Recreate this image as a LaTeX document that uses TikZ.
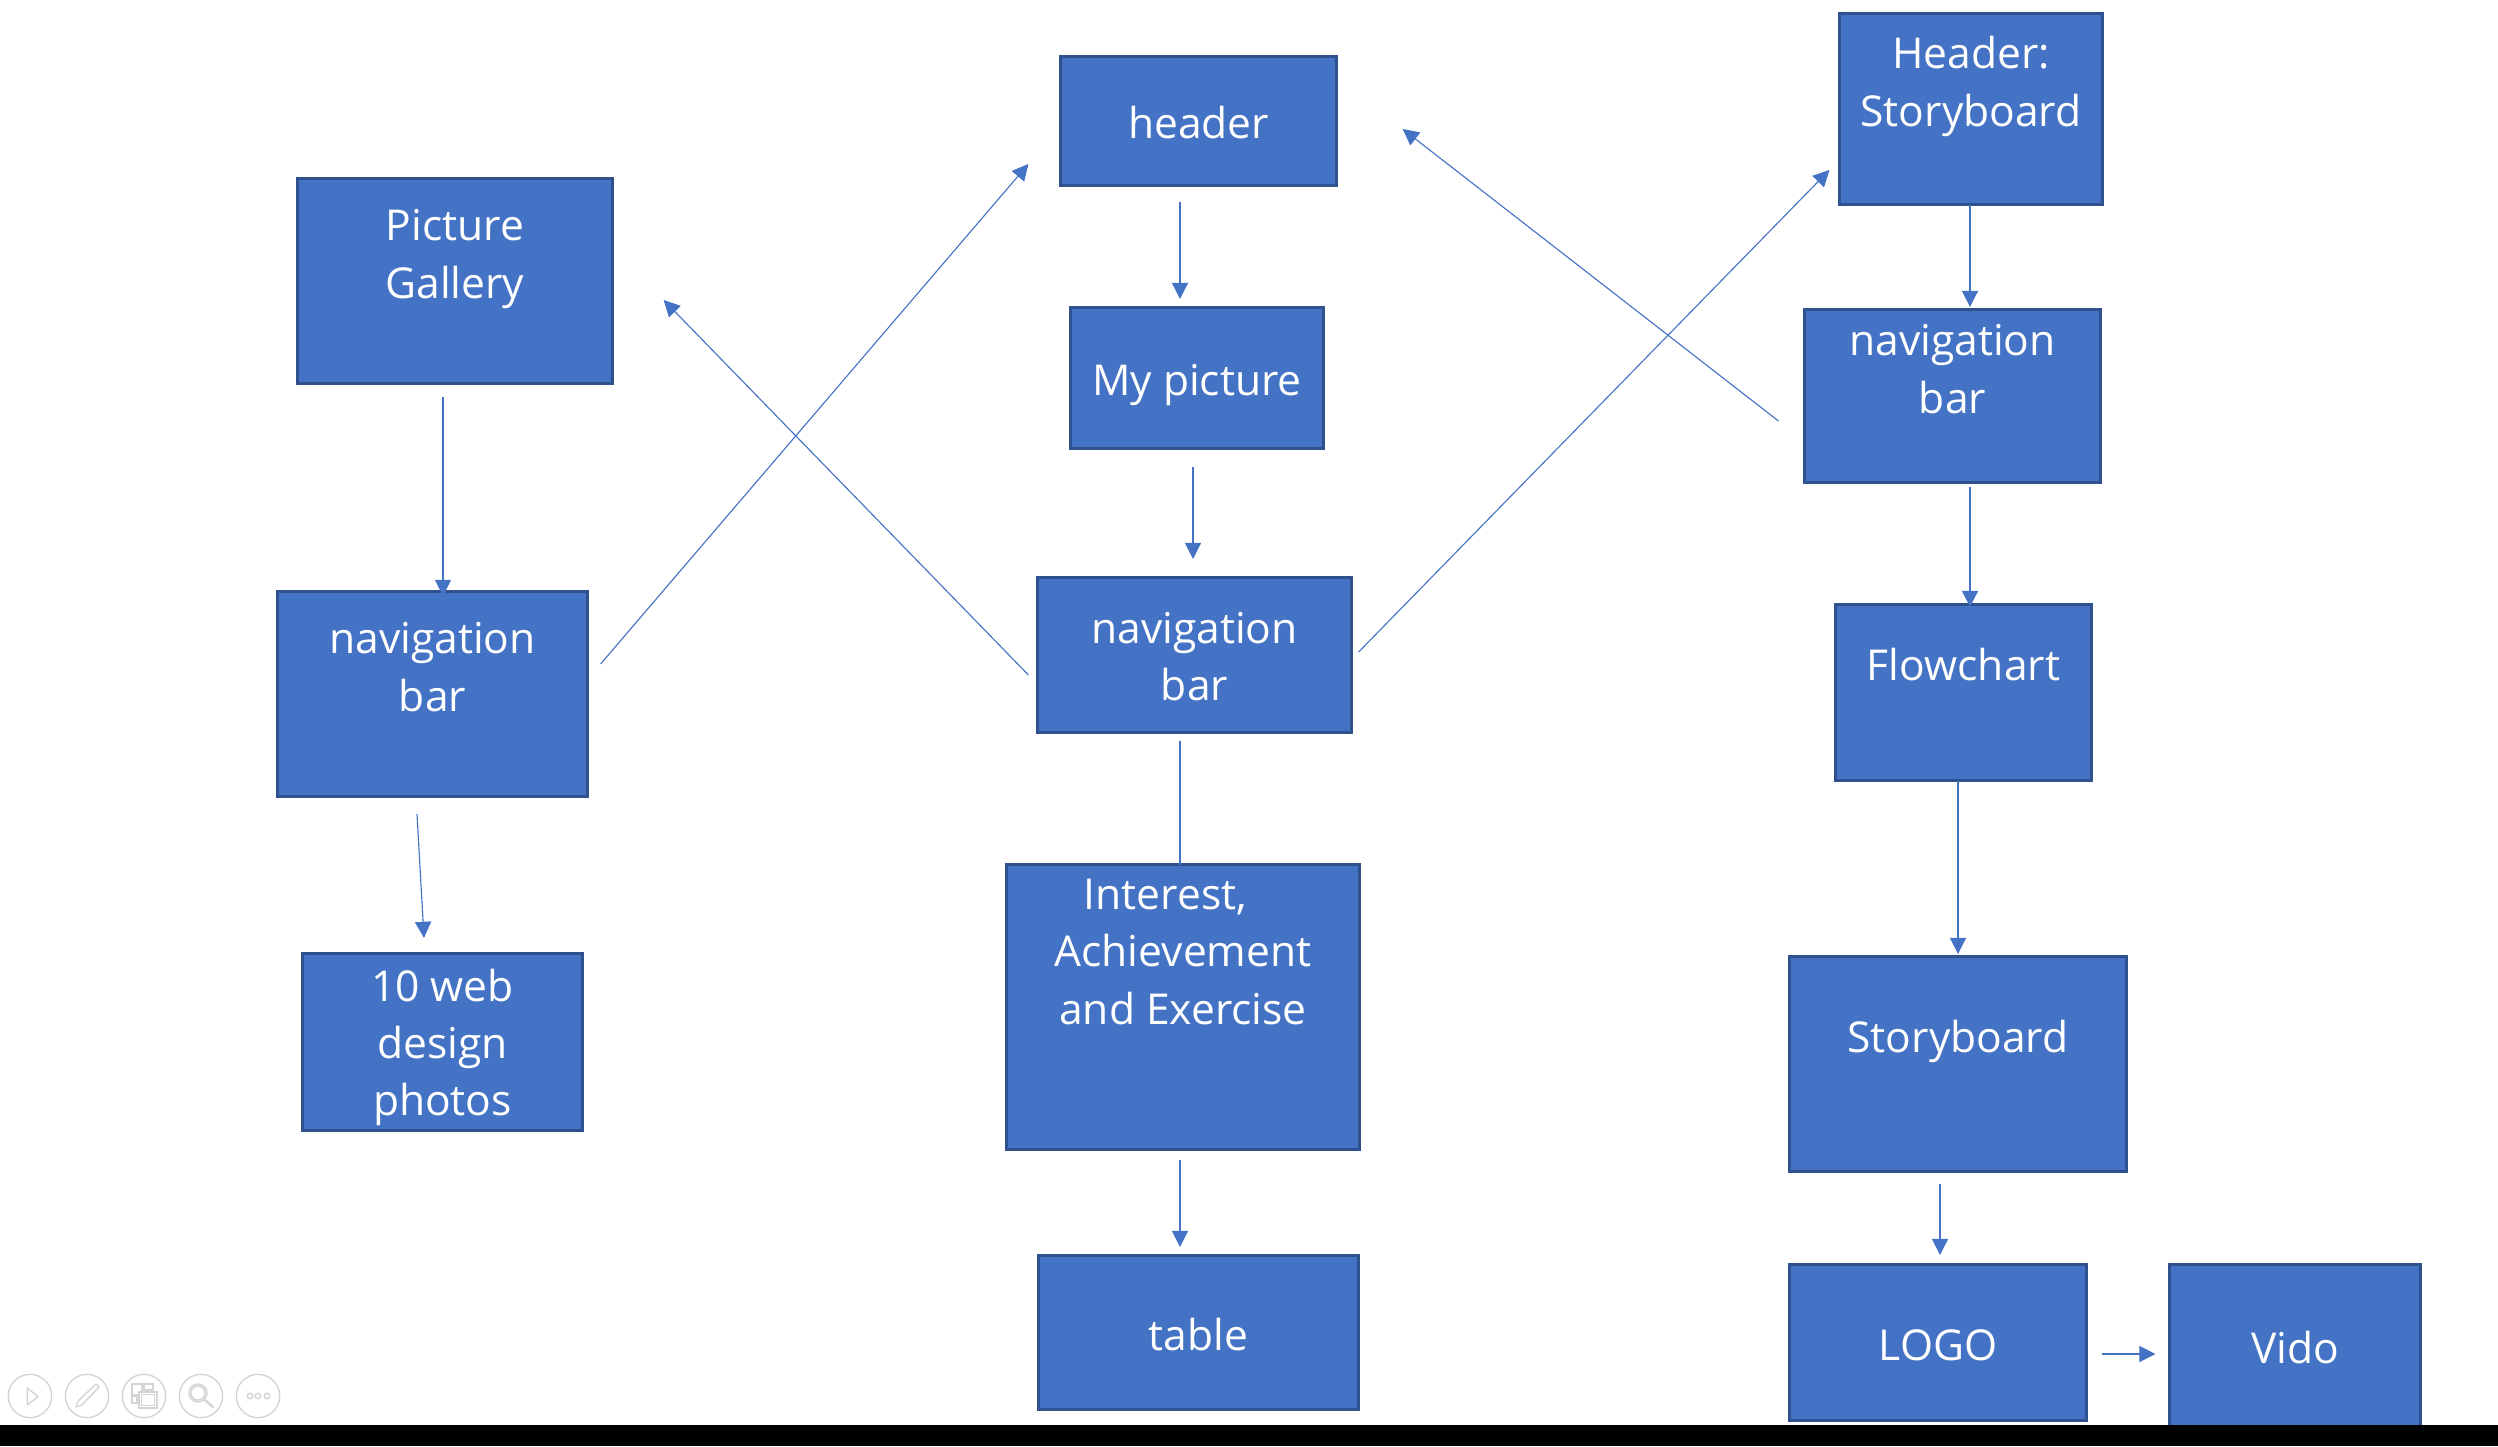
\documentclass[tikz,border=0pt]{standalone}
\usepackage{fontspec}
\setmainfont{Open Sans}
\usetikzlibrary{arrows.meta}
\definecolor{boxfill}{HTML}{4472C4}
\definecolor{boxline}{HTML}{2F528F}
\definecolor{toolgray}{HTML}{D4D4D4}
\newcommand{\toprow}{\rule{0pt}{12.2pt}}
\tikzset{
  box/.style={draw=boxline, fill=boxfill, line width=.85pt, text=white, align=center, inner sep=0pt, outer sep=0pt,
    font=\fontsize{12.1pt}{16.3pt}\selectfont,
    execute at begin node=\rule[-2.5pt]{0pt}{15.2pt},
    execute at end node=\rule[-2.5pt]{0pt}{15.2pt}},
  flow/.style={draw=boxfill, line width=.32pt, -{Triangle[length=4.6pt,width=4.6pt]}},
  plainflow/.style={draw=boxfill, line width=.32pt},
  toolbtn/.style={circle, draw=toolgray, line width=.4pt, minimum size=1.3cm*.333, inner sep=0pt},
  toolicon/.style={draw=toolgray, line width=.4pt},
}
\begin{document}
\begin{tikzpicture}[x=.01cm, y=-.01cm]
\useasboundingbox (0,0) rectangle (2498,1446);
% left column
\node[box, minimum width=3.15cm, minimum height=2.04cm] (gallery) at (455,281) {\toprow Picture\\Gallery\\~};
\node[box, minimum width=3.10cm, minimum height=2.04cm] (navleft) at (432.5,694) {\toprow navigation\\bar\\~};
\node[box, minimum width=2.80cm, minimum height=1.76cm] (photos) at (442.5,1042) {\toprow 10 web\\design\\photos};
% middle column
\node[box, minimum width=2.76cm, minimum height=1.28cm] (header) at (1198.5,121) {header};
\node[box, minimum width=2.53cm, minimum height=1.40cm] (picture) at (1197,378) {My picture};
\node[box, minimum width=3.14cm, minimum height=1.54cm] (navmid) at (1194.5,655) {\toprow navigation\\bar};
\node[box, minimum width=3.53cm, minimum height=2.84cm] (interest) at (1183,1007) {\toprow Interest,\hspace*{10pt}\\Achievement\\and Exercise\\~\\~};
\node[box, minimum width=3.20cm, minimum height=1.53cm] (tablebox) at (1198.5,1332.5) {table};
% right column
\node[box, minimum width=2.63cm, minimum height=1.90cm] (headerstory) at (1971,109) {\toprow Header:\\Storyboard\\~};
\node[box, minimum width=2.96cm, minimum height=1.72cm] (navright) at (1952.5,396) {\toprow navigation\\bar\\~};
\node[box, minimum width=2.56cm, minimum height=1.75cm] (flowchart) at (1963.5,692.5) {\toprow Flowchart\\~};
\node[box, minimum width=3.37cm, minimum height=2.14cm] (story) at (1958,1064) {\toprow Storyboard\\~};
\node[box, minimum width=2.97cm, minimum height=1.55cm] (logo) at (1938,1342.5) {LOGO};
\node[box, minimum width=2.51cm, minimum height=1.62cm] (vido) at (2295,1346) {Vido};
% connectors
\draw[flow] ([shift={(-12,14)}]gallery.south) -- ([shift={(10.5,4)}]navleft.north);
\draw[flow] ([shift={(-15.5,18)}]navleft.south) -- ([shift={(-18.5,-16)}]photos.north);
\draw[flow] ([shift={(13,-30)}]navleft.east) -- ([shift={(-32,43)}]header.west);
\draw[flow] ([shift={(-9,20)}]navmid.west) -- ([shift={(51,19)}]gallery.east);
\draw[flow] ([shift={(-18.5,17)}]header.south) -- ([shift={(-17,-9)}]picture.north);
\draw[flow] ([shift={(-4,19)}]picture.south) -- ([shift={(-1.5,-19)}]navmid.north);
\draw[plainflow] ([shift={(-14.5,9)}]navmid.south) -- ([shift={(-3,0)}]interest.north);
\draw[flow] ([shift={(-3,11)}]interest.south) -- ([shift={(-18.5,-9)}]tablebox.north);
\draw[flow] ([shift={(7,-3)}]navmid.east) -- ([shift={(-10,61)}]headerstory.west);
\draw[flow] ([shift={(-26,25)}]navright.west) -- ([shift={(66,8)}]header.east);
\draw[flow] ([shift={(-1,1)}]headerstory.south) -- ([shift={(17.5,-3)}]navright.north);
\draw[flow] ([shift={(17.5,5)}]navright.south) -- ([shift={(6.5,2)}]flowchart.north);
\draw[flow] ([shift={(-5.5,1)}]flowchart.south) -- ([shift={(0,-3)}]story.north);
\draw[flow] ([shift={(-18,13)}]story.south) -- ([shift={(2,-10)}]logo.north);
\draw[flow] ([shift={(15,11.5)}]logo.east) -- ([shift={(-14,8)}]vido.west);
% slide show toolbar
\foreach \n/\bx in {play/30, pen/87, slides/144, zoom/201, more/258}
  \node[toolbtn] (\n) at (\bx,1396) {};
\draw[toolicon, line join=round] (27.3,1388) -- (38,1396.5) -- (27.3,1405) -- cycle;
\draw[toolicon, line join=round] (76,1407) -- (78,1401) -- (96,1384) -- (99,1387) -- (82,1405) -- cycle;
\draw[toolicon] (132,1384) rectangle (142,1395) (144,1384) rectangle (153,1390) (132,1396) rectangle (137,1403);
\draw[toolicon, fill=white] (139,1392) rectangle (157,1408) (141.5,1394.5) rectangle (154.5,1405.5);
\draw[toolicon] (198,1393) circle (9) (198,1393) circle (7);
\draw[toolicon, line width=.7pt, line cap=round] (205,1400) -- (213,1407);
\foreach \dx in {250,258,267}
  \draw[toolicon] (\dx,1396) circle (2.8);
% black bar
\fill[black] (0,1425) rectangle (2498,1446);
\end{tikzpicture}
\end{document}
